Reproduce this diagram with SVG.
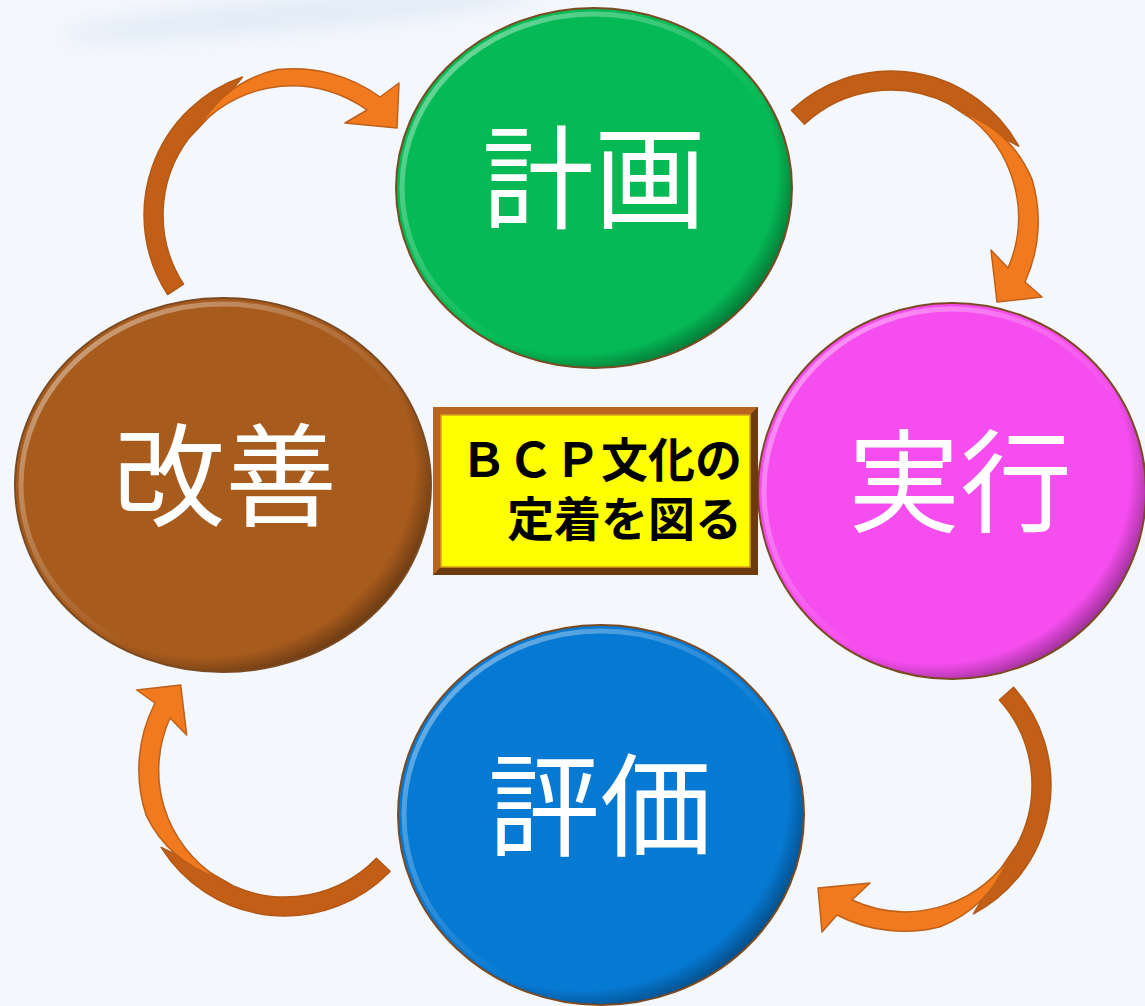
<svg xmlns="http://www.w3.org/2000/svg" width="1145" height="1006" viewBox="0 0 1145 1006">
<defs>
<style>
.lbl{font-family:"Noto Sans CJK JP","Noto Sans CJK SC",sans-serif;font-size:112px;fill:#fff;text-anchor:middle}
.ctr{font-family:"Noto Sans CJK JP","Noto Sans CJK SC",sans-serif;font-size:47px;font-weight:700;fill:#000;text-anchor:end}
.dark{fill:#C25E16;stroke:#B35815;stroke-width:1.5;stroke-linejoin:round}
.light{fill:#F27A1E;stroke:#BF6019;stroke-width:1.5;stroke-linejoin:round}
.rim{fill:none;stroke:#7A4A22;stroke-width:2}
.hi{fill:none;stroke:url(#hiG);stroke-width:5}
.sh{fill:url(#shG)}
</style>
<radialGradient id="shG" cx="0.45" cy="0.45" r="0.58">
<stop offset="0.88" stop-color="#000" stop-opacity="0"/>
<stop offset="1" stop-color="#000" stop-opacity="0.42"/>
</radialGradient>
<linearGradient id="hiG" x1="0" y1="0" x2="1" y2="1">
<stop offset="0" stop-color="#fff" stop-opacity="0.5"/>
<stop offset="0.45" stop-color="#fff" stop-opacity="0.12"/>
<stop offset="0.6" stop-color="#fff" stop-opacity="0"/>
</linearGradient>
<filter id="blur" x="-30%" y="-150%" width="160%" height="400%"><feGaussianBlur stdDeviation="10"/></filter>
</defs>
<rect width="1145" height="1006" fill="#F4F7FC"/>
<ellipse cx="300" cy="14" rx="240" ry="16" transform="rotate(-5 300 14)" fill="#DCE8F6" opacity="0.75" filter="url(#blur)"/>

<g id="connectors">
<g id="arrow-kaizen-keikaku">
<path class="dark" d="M167.6,294.5 A146,146 0 0 1 242.5,77 Q217.9,108.1 188.6,138.6 A127,127 0 0 0 183.5,284.2 Z"/>
<path class="light" d="M200.2,125.2 Q227.5,80.9 277.3,69.6 A146,146 0 0 1 380,97 L399,83 L397,128 L345,123 L367,110 A127,127 0 0 0 200.2,125.2 Z"/>
</g>
<g id="arrow-keikaku-jikko">
<path class="dark" d="M791.4,110.2 A146,146 0 0 1 1018.7,146.2 Q983.8,127.4 948.7,103.8 A127,127 0 0 0 804.4,124.1 Z"/>
<path class="light" d="M963.8,113 Q1012.2,132.1 1032,179.2 A146,146 0 0 1 1025,282 L1042,297 L997,302 L991,250 L1008,268 A127,127 0 0 0 963.8,113 Z"/>
</g>
<g id="arrow-jikko-hyoka">
<path class="dark" d="M1013.5,687.3 A146,146 0 0 1 973.5,913.9 Q993,879.3 1017.1,844.6 A127,127 0 0 0 999.4,700 Z"/>
<path class="light" d="M1007.7,859.7 Q987.8,907.7 940.3,926.7 A146,146 0 0 1 837,915 L822,932 L818,888 L870,883 L852,900 A127,127 0 0 0 1007.7,859.7 Z"/>
</g>
<g id="arrow-hyoka-kaizen">
<path class="dark" d="M390,871.4 A146,146 0 0 1 161.2,847.4 Q197,864.3 233.3,886 A127,127 0 0 0 376.4,858.2 Z"/>
<path class="light" d="M217.7,877.7 Q168.4,861.1 146.1,815.1 A146,146 0 0 1 155,703 L136.7,690 L180.7,685 L186.7,735 L170,718 A127,127 0 0 0 217.7,877.7 Z"/>
</g>
</g>

<g id="node-keikaku">
<ellipse cx="594" cy="188" rx="198" ry="180" fill="#05BA55"/>
<ellipse cx="594" cy="188" rx="198" ry="180" class="sh"/>
<ellipse cx="594" cy="188" rx="192" ry="174" class="hi"/>
<ellipse cx="594" cy="188" rx="198" ry="180" class="rim"/>
<text class="lbl" x="594" y="220">計画</text>
</g>

<g id="node-jikko">
<ellipse cx="952" cy="491" rx="194" ry="188" fill="#F54DEE"/>
<ellipse cx="952" cy="491" rx="194" ry="188" class="sh"/>
<ellipse cx="952" cy="491" rx="188" ry="182" class="hi"/>
<ellipse cx="952" cy="491" rx="194" ry="188" class="rim"/>
<text class="lbl" x="960" y="524">実行</text>
</g>

<g id="node-hyoka">
<ellipse cx="601" cy="815" rx="203" ry="190" fill="#0679D3"/>
<ellipse cx="601" cy="815" rx="203" ry="190" class="sh"/>
<ellipse cx="601" cy="815" rx="197" ry="184" class="hi"/>
<ellipse cx="601" cy="815" rx="203" ry="190" class="rim"/>
<text class="lbl" x="600" y="848">評価</text>
</g>

<g id="node-kaizen">
<ellipse cx="223" cy="485" rx="208" ry="187" fill="#A75B1D"/>
<ellipse cx="223" cy="485" rx="208" ry="187" class="sh"/>
<ellipse cx="223" cy="485" rx="202" ry="181" class="hi"/>
<ellipse cx="223" cy="485" rx="208" ry="187" class="rim"/>
<text class="lbl" x="225" y="518">改善</text>
</g>

<g id="node-center">
<rect x="433" y="407" width="325" height="168" fill="#8E4A15"/>
<polygon points="433,407 758,407 750,415 441,415 441,567 433,575" fill="#B8651F"/>
<polygon points="758,407 758,575 433,575 441,567 750,567 750,415" fill="#6E3A10"/>
<rect x="441" y="415" width="309" height="152" fill="#FFFF00" stroke="#D9A020" stroke-width="1.5"/>
<text class="ctr"><tspan x="742" y="477">ＢＣＰ文化の</tspan><tspan x="742" y="536">定着を図る</tspan></text>
</g>
</svg>
